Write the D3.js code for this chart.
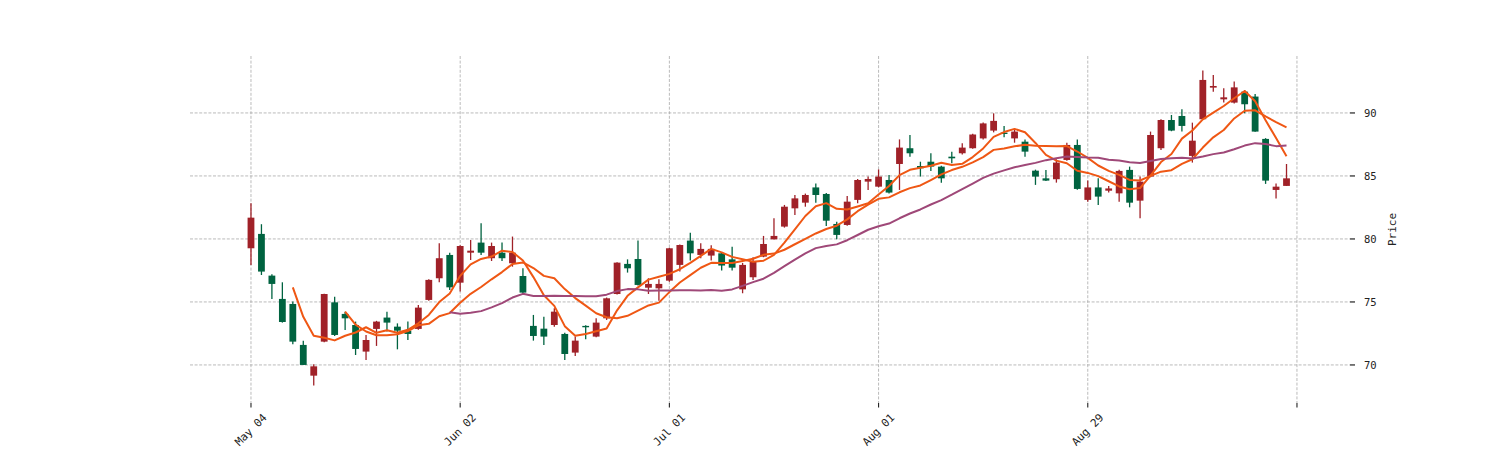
<!DOCTYPE html>
<html>
<head>
<meta charset="utf-8">
<script src="https://cdn.jsdelivr.net/npm/d3@7"></script>
<style>
  html, body { margin: 0; padding: 0; background: #ffffff; }
  svg { display: block; }
</style>
</head>
<body>
<script>
// ---- data ----
const opens  = [79.26,80.40,77.09,75.24,74.84,71.59,69.15,71.85,74.97,74.05,
                73.17,71.06,72.86,73.76,73.04,72.72,72.86,75.16,76.88,78.73,
                76.53,78.91,79.71,78.47,78.91,78.07,77.06,73.10,72.88,73.17,
                72.46,70.98,73.10,72.25,73.70,75.63,78.02,78.41,76.13,76.08,
                76.69,77.94,79.87,78.73,78.68,78.86,78.38,76.00,76.96,78.60,
                79.97,80.98,82.43,82.88,84.09,83.57,81.19,81.11,83.10,84.55,
                84.15,84.68,85.95,87.20,85.79,86.13,85.74,86.53,86.80,87.20,
                87.98,88.60,88.44,87.98,87.72,85.42,84.81,84.74,86.27,87.46,
                83.10,84.09,83.83,83.62,85.48,83.04,84.95,87.20,89.44,89.76,
                86.59,89.50,92.01,91.08,90.82,91.69,91.30,87.94,83.89,84.21];
const highs  = [82.83,81.17,77.20,76.56,75.03,71.93,70.05,75.65,75.42,74.23,
                73.44,72.38,73.50,74.23,73.30,73.44,74.76,76.80,79.66,78.91,
                79.50,79.92,81.24,79.71,79.71,80.19,77.67,73.97,73.83,74.50,
                72.56,72.25,73.15,73.70,75.35,78.15,78.38,79.87,76.88,76.80,
                79.30,79.55,80.50,79.66,79.50,78.90,79.39,78.10,78.54,80.24,
                81.64,82.70,83.49,83.60,84.41,83.65,81.37,83.41,84.75,84.95,
                85.52,85.08,87.90,88.25,86.13,86.80,85.80,86.93,87.59,88.35,
                89.25,89.97,88.97,88.70,87.90,85.50,85.48,86.32,87.64,87.90,
                84.63,84.81,84.21,85.50,85.74,84.95,88.52,89.50,89.84,90.29,
                89.23,93.36,93.02,91.96,92.50,91.80,91.51,88.00,84.41,85.95];
const lows   = [77.94,77.14,75.24,73.36,71.64,70.00,68.36,71.80,72.30,72.78,
                70.79,70.40,71.51,72.65,71.24,71.98,72.80,75.10,76.56,75.95,
                75.82,78.33,78.73,78.25,78.25,77.80,75.63,71.93,71.59,73.04,
                70.40,70.71,72.04,72.20,73.57,75.60,77.33,76.30,75.63,75.10,
                76.60,77.41,78.28,78.47,78.28,77.49,77.49,75.69,76.75,78.55,
                79.95,80.90,81.90,82.56,82.88,81.03,79.97,81.05,82.83,83.89,
                84.10,83.60,83.89,86.53,84.95,85.40,84.47,86.00,86.70,87.15,
                87.90,88.46,88.07,87.64,86.53,84.29,84.60,84.47,86.20,83.90,
                82.96,82.70,83.68,82.96,82.51,81.64,84.90,87.06,88.55,88.52,
                86.06,89.45,91.69,90.82,90.75,89.97,88.50,84.37,83.22,84.20];
const closes = [81.69,77.41,76.43,73.41,71.85,70.00,69.89,75.63,72.38,73.70,
                71.27,71.98,73.44,73.36,72.72,72.46,74.55,76.75,78.47,76.16,
                79.44,79.07,78.91,79.44,78.47,78.91,75.74,72.30,72.25,74.23,
                70.87,71.93,72.99,73.36,75.29,78.12,77.67,76.35,76.43,76.43,
                79.26,79.52,78.86,79.21,79.21,77.89,77.72,77.94,78.20,79.60,
                80.24,82.56,83.22,83.49,83.49,81.45,80.32,82.96,84.68,84.76,
                84.95,83.68,87.25,86.80,85.61,85.74,84.81,86.40,87.25,88.29,
                89.17,89.37,88.33,88.52,86.93,84.95,84.63,86.06,87.46,83.97,
                84.09,83.36,84.01,85.40,82.88,84.55,88.25,89.44,88.60,88.97,
                87.80,92.62,92.14,91.24,92.03,90.69,88.52,84.63,84.15,84.81];

const mavPeriods = [5, 10, 20];
const tickIndex  = [0, 20, 40, 60, 80, 100];
const tickLabels = ["May 04", "Jun 02", "Jul 01", "Aug 01", "Aug 29", ""];
const yTicks     = [70, 75, 80, 85, 90];
const yLabel     = "Price";

// ---- styles ----
const upColor = "#a02128", downColor = "#006340";
const mavColors = ["#ef5714", "#ef5714", "#9f4878"];
const gridColor = "#a9a9a9";
const FONT = "'DejaVu Sans Mono', monospace";

const W = 1500, H = 450;
const plot = { left: 190, right: 1350, top: 56, bottom: 403 };

const svg = d3.select("body").append("svg")
  .attr("width", W).attr("height", H)
  .attr("viewBox", `0 0 ${W} ${H}`);
svg.append("rect").attr("width", W).attr("height", H).attr("fill", "#fff");

const x = d3.scaleLinear().domain([-5.83, 105.07]).range([plot.left, plot.right]);
const y = d3.scaleLinear().domain([66.98, 94.52]).range([plot.bottom, plot.top]);

const data = opens.map((o, i) => ({ i, o, h: highs[i], l: lows[i], c: closes[i] }));

// grid
const grid = svg.append("g");
grid.selectAll("line.h").data(yTicks).join("line")
  .attr("x1", plot.left).attr("x2", plot.right)
  .attr("y1", d => y(d)).attr("y2", d => y(d))
  .attr("stroke", gridColor).attr("stroke-width", 0.8)
  .attr("stroke-dasharray", "3,1.6");
grid.selectAll("line.v").data(tickIndex).join("line")
  .attr("x1", d => x(d)).attr("x2", d => x(d))
  .attr("y1", plot.top).attr("y2", plot.bottom)
  .attr("stroke", gridColor).attr("stroke-width", 0.8)
  .attr("stroke-dasharray", "3,1.6");

// candles
const bw = 0.65 * (x(1) - x(0));
const cg = svg.append("g");
cg.selectAll("line.wick").data(data).join("line")
  .attr("x1", d => x(d.i)).attr("x2", d => x(d.i))
  .attr("y1", d => y(d.h)).attr("y2", d => y(d.l))
  .attr("stroke", d => d.c >= d.o ? upColor : downColor)
  .attr("stroke-width", 1.3);
cg.selectAll("rect.body").data(data).join("rect")
  .attr("x", d => x(d.i) - bw / 2)
  .attr("width", bw)
  .attr("y", d => y(Math.max(d.o, d.c)))
  .attr("height", d => Math.max(1, Math.abs(y(d.o) - y(d.c))))
  .attr("fill", d => d.c >= d.o ? upColor : downColor);

// moving averages (rolling mean of closes, as in the original chart)
const line = d3.line().x(d => x(d[0])).y(d => y(d[1]));
mavPeriods.forEach((p, k) => {
  const pts = [];
  for (let i = p - 1; i < closes.length; i++) {
    pts.push([i, d3.mean(closes.slice(i - p + 1, i + 1))]);
  }
  svg.append("path").datum(pts)
    .attr("d", line)
    .attr("fill", "none")
    .attr("stroke", mavColors[k])
    .attr("stroke-width", 2)
    .attr("stroke-linejoin", "round");
});

// x axis ticks & labels
const xa = svg.append("g");
xa.selectAll("line").data(tickIndex).join("line")
  .attr("x1", d => x(d)).attr("x2", d => x(d))
  .attr("y1", plot.bottom).attr("y2", plot.bottom + 4.5)
  .attr("stroke", "#222").attr("stroke-width", 1.1);
xa.selectAll("text").data(tickIndex).join("text")
  .attr("transform", d => `translate(${x(d)},${plot.bottom + 27}) rotate(-45)`)
  .attr("text-anchor", "middle")
  .attr("dominant-baseline", "central")
  .attr("font-family", FONT).attr("font-size", 11)
  .attr("fill", "#222")
  .text((d, i) => tickLabels[i]);

// y axis (right)
const ya = svg.append("g");
ya.selectAll("line").data(yTicks).join("line")
  .attr("x1", plot.right).attr("x2", plot.right + 5)
  .attr("y1", d => y(d)).attr("y2", d => y(d))
  .attr("stroke", "#222").attr("stroke-width", 1.2);
ya.selectAll("text").data(yTicks).join("text")
  .attr("x", plot.right + 14).attr("y", d => y(d))
  .attr("dominant-baseline", "central")
  .attr("font-family", FONT).attr("font-size", 10.5)
  .attr("fill", "#222")
  .text(d => d);
svg.append("text")
  .attr("transform", `translate(1392,${(plot.top + plot.bottom) / 2}) rotate(-90)`)
  .attr("text-anchor", "middle")
  .attr("dominant-baseline", "central")
  .attr("font-family", FONT).attr("font-size", 11)
  .attr("fill", "#222")
  .text(yLabel);
</script>
</body>
</html>
